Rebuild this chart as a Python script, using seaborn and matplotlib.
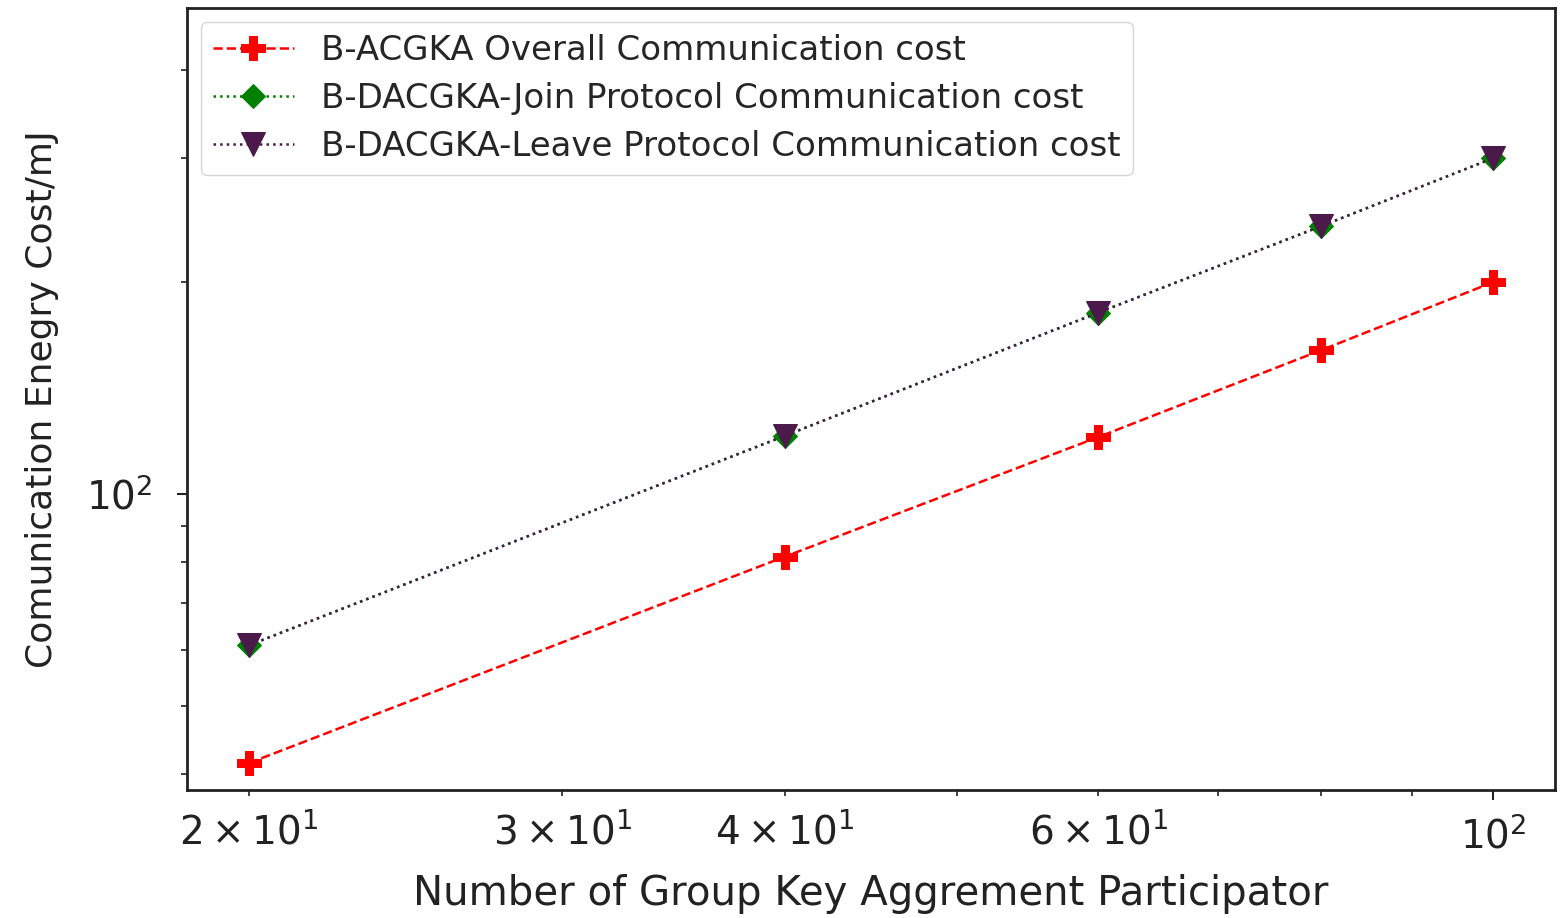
import numpy as np
import pandas as pd
import matplotlib
matplotlib.use("Agg")
import matplotlib.pyplot as plt
import seaborn as sns

participants = [20, 40, 60, 80, 100]
overall_cost = [41.5, 81.5, 120.5, 160, 200]
join_cost = [61, 121, 181, 240, 300]
leave_cost = [61, 121, 181, 240, 300]

labels = ["B-ACGKA Overall Communication cost",
          "B-DACGKA-Join Protocol Communication cost",
          "B-DACGKA-Leave Protocol Communication cost"]

sns.set_style("ticks")
plt.rcParams['font.family'] = ['DejaVu Sans']

fig = plt.figure(figsize=(15.63, 9.18), dpi=100)
ax = fig.add_axes([187/1563, 1-790/918, (1555-187)/1563, (790-8)/918])

df = pd.DataFrame({"n": participants, "overall": overall_cost,
                   "join": join_cost, "leave": leave_cost})

sns.lineplot(data=df, x="n", y="overall", ax=ax, color="red", linestyle="--",
             marker="P", markersize=17, markeredgecolor="red", linewidth=1.8,
             label=labels[0])
sns.lineplot(data=df, x="n", y="join", ax=ax, color="green", linestyle=":",
             marker="D", markersize=12, markeredgecolor="green", linewidth=1.8,
             label=labels[1])
sns.lineplot(data=df, x="n", y="leave", ax=ax, color="#4b1a4b", linestyle=":",
             marker="v", markersize=17, markeredgecolor="#4b1a4b", linewidth=1.8,
             label=labels[2])

ax.set_xscale("log")
ax.set_yscale("log")
ax.set_xlim(18.46, 108.3)
ax.set_ylim(38, 490)

ax.set_xlabel("Number of Group Key Aggrement Participator", fontsize=29,
              color="#222222", labelpad=13)
ax.set_ylabel("Comunication Enegry Cost/mJ", fontsize=26, color="#222222",
              labelpad=19)
ax.tick_params(axis="both", which="major", labelsize=28, length=7, width=1.5, colors="#222222")
ax.tick_params(axis="both", which="minor", labelsize=28, length=4.5, width=1.2, colors="#222222")
ax.tick_params(axis="x", which="both", pad=12)
ax.tick_params(axis="y", which="both", pad=18)
for s in ax.spines.values():
    s.set_linewidth(2)
    s.set_color("#222222")

leg = ax.legend(loc="upper left", fontsize=24.5, frameon=True, borderaxespad=0.4,
                handlelength=2.4, labelspacing=0.45, borderpad=0.35)
leg.get_frame().set_edgecolor("#cccccc")

fig.savefig("out.png", dpi=100)
